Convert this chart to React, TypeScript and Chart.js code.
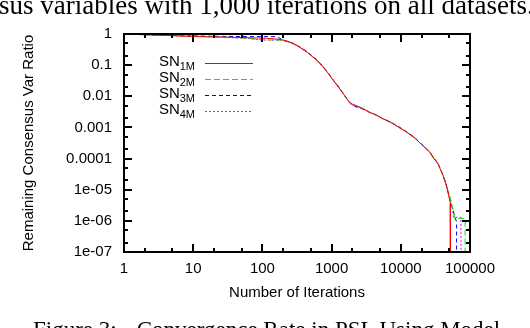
import React, { useEffect, useRef } from "react";
import { Chart, registerables } from "chart.js";

Chart.register(...registerables);

// ---- tick definitions ----
const xDecades = [1, 10, 100, 1000, 10000, 100000];
const xTickLabels = ["1", "10", "100", "1000", "10000", "100000"];
const yDecades = [1, 0.1, 0.01, 0.001, 0.0001, 1e-5, 1e-6, 1e-7];
const yTickLabels = ["1", "0.1", "0.01", "0.001", "0.0001", "1e-05", "1e-06", "1e-07"];
const minorMultipliers = [2, 5];

// ---- series ----
const seriesBase = ["SN", "SN", "SN", "SN"];
const seriesSub = ["1M", "2M", "3M", "4M"];
const seriesColors = ["#ff0000", "#00ee00", "#0000ff", "#ff00ff"];
const seriesDash = [[], [6, 3], [4, 3], [2, 2]];

// value 0 (reached at the end) is shown below the log axis
const ZERO = 1e-9;

const itersSN1M = [1, 2.5, 5, 12, 42, 115, 190, 250, 320, 433, 600, 751, 900, 1048, 1250, 1462, 1650, 1820, 2000, 2400, 2800, 3500, 4420, 5500, 7000, 9100, 12000, 16000, 20000, 25900, 30000, 34300, 40600, 45000, 48000, 52000, 52000];
const valsSN1M = [1, 0.93, 0.88, 0.82, 0.78, 0.73, 0.66, 0.55, 0.42, 0.27, 0.15, 0.089, 0.053, 0.033, 0.02, 0.0124, 0.0085, 0.0064, 0.0056, 0.0048, 0.0041, 0.0031, 0.0025, 0.0019, 0.0015, 0.00105, 0.00072, 0.00045, 0.00028, 0.000166, 0.0001, 6.9e-5, 2.9e-5, 1.5e-5, 8.5e-6, 3.7e-6, ZERO];

const itersSN2M = [1, 2.5, 10, 25, 60, 100, 190, 250, 320, 433, 600, 751, 900, 1048, 1250, 1462, 1650, 1820, 2000, 2400, 2800, 3500, 4420, 5500, 7000, 9100, 12000, 16000, 20000, 25900, 30000, 34300, 40600, 45000, 50000, 55000, 58000, 60000, 85000, 85000];
const valsSN2M = [1, 0.93, 0.85, 0.8, 0.73, 0.65, 0.63, 0.54, 0.42, 0.27, 0.15, 0.09, 0.055, 0.034, 0.02, 0.0125, 0.0083, 0.0062, 0.0052, 0.0045, 0.004, 0.0031, 0.0025, 0.0019, 0.0015, 0.00105, 0.00073, 0.00046, 0.00028, 0.00017, 0.000105, 7e-5, 3e-5, 1.5e-5, 7e-6, 3e-6, 2e-6, 1.2e-6, 1.2e-6, ZERO];

const itersSN3M = [1, 3, 12, 40, 160, 200, 250, 320, 433, 600, 751, 900, 1048, 1250, 1462, 1650, 1820, 2000, 2400, 2800, 3500, 4420, 5500, 7000, 9100, 12000, 16000, 20000, 25900, 30000, 34300, 40600, 45000, 48000, 52000, 56000, 64000, 64000];
const valsSN3M = [1, 0.93, 0.86, 0.83, 0.82, 0.64, 0.55, 0.43, 0.28, 0.155, 0.092, 0.056, 0.034, 0.021, 0.0128, 0.0084, 0.0061, 0.0051, 0.0044, 0.0039, 0.0031, 0.0025, 0.0019, 0.0015, 0.0011, 0.00074, 0.00047, 0.00029, 0.00017, 0.000104, 7.2e-5, 3e-5, 1.6e-5, 8.5e-6, 4e-6, 2.5e-6, 9e-7, ZERO];

const itersSN4M = [1, 2.5, 10, 25, 60, 100, 190, 250, 320, 433, 600, 751, 900, 1048, 1250, 1462, 1650, 1820, 2000, 2400, 2800, 3500, 4420, 5500, 7000, 9100, 12000, 16000, 20000, 25900, 30000, 34300, 40600, 45000, 50000, 55000, 58000, 74000, 74000];
const valsSN4M = [1, 0.93, 0.85, 0.8, 0.72, 0.64, 0.63, 0.54, 0.42, 0.27, 0.15, 0.09, 0.054, 0.034, 0.02, 0.0126, 0.0084, 0.0062, 0.0052, 0.0045, 0.004, 0.0031, 0.0025, 0.0019, 0.0015, 0.00105, 0.00072, 0.00046, 0.00028, 0.00017, 0.000103, 7e-5, 3e-5, 1.5e-5, 7e-6, 3e-6, 1.3e-6, 1.3e-6, ZERO];

const seriesIters = [itersSN1M, itersSN2M, itersSN3M, itersSN4M];
const seriesVals = [valsSN1M, valsSN2M, valsSN3M, valsSN4M];

const xTitle = "Number of Iterations";
const yTitle = "Remaining Consensus Var Ratio";
const topCaption = "sus variables with 1,000 iterations on all datasets.";
const bottomCaptionLabel = "Figure 3:";
const bottomCaptionText = "Convergence Rate in PSL Using Model";

const FONT = "'Liberation Sans', Arial, Helvetica, sans-serif";
const SERIF = "'Liberation Serif', 'Times New Roman', serif";
const FONT_SIZE = 15;

const sameLog = (a: number, b: number) => Math.abs(Math.log10(a) - Math.log10(b)) < 1e-6;

const framePlugin = {
  id: "gnuFrame",
  afterDatasetsDraw(chart: any) {
    const { ctx, chartArea: a, scales } = chart;
    const xs = scales.x;
    const ys = scales.y;
    ctx.save();
    ctx.strokeStyle = "#000";
    ctx.lineWidth = 2;
    ctx.lineCap = "butt";
    ctx.strokeRect(a.left, a.top, a.right - a.left, a.bottom - a.top);
    const major = 8;
    const minor = 4;
    const tick = (x1: number, y1: number, x2: number, y2: number) => {
      ctx.beginPath();
      ctx.moveTo(x1, y1);
      ctx.lineTo(x2, y2);
      ctx.stroke();
    };
    const xVals: [number, number][] = [];
    xDecades.forEach((d, i) => {
      xVals.push([d, major]);
      if (i < xDecades.length - 1) minorMultipliers.forEach((m) => xVals.push([d * m, minor]));
    });
    xVals.forEach(([v, len]) => {
      const p = Math.round(xs.getPixelForValue(v));
      tick(p, a.bottom, p, a.bottom - len);
      tick(p, a.top, p, a.top + len);
    });
    const yAsc = [...yDecades].sort((p, q) => p - q);
    const yVals: [number, number][] = [];
    yAsc.forEach((d, i) => {
      yVals.push([d, major]);
      if (i < yAsc.length - 1) minorMultipliers.forEach((m) => yVals.push([d * m, minor]));
    });
    yVals.forEach(([v, len]) => {
      const p = Math.round(ys.getPixelForValue(v));
      tick(a.left, p, a.left + len, p);
      tick(a.right, p, a.right - len, p);
    });

    // key (legend) with subscripts
    const textRight = a.left + 71;
    const lineStart = a.left + 81;
    const lineEnd = a.left + 129;
    chart.data.datasets.forEach((ds: any, i: number) => {
      const yy = a.top + 29 + i * 16;
      ctx.fillStyle = "#000";
      ctx.textBaseline = "middle";
      ctx.textAlign = "right";
      ctx.font = `11px ${FONT}`;
      const subW = ctx.measureText(seriesSub[i]).width;
      ctx.fillText(seriesSub[i], textRight, yy + 4);
      ctx.font = `${FONT_SIZE}px ${FONT}`;
      ctx.fillText(seriesBase[i], textRight - subW, yy - 1);
      ctx.strokeStyle = ds.borderColor;
      ctx.lineWidth = 1;
      ctx.setLineDash(ds.borderDash || []);
      ctx.beginPath();
      ctx.moveTo(lineStart, yy + 0.5);
      ctx.lineTo(lineEnd, yy + 0.5);
      ctx.stroke();
      ctx.setLineDash([]);
    });
    ctx.restore();
  },
};

export default function App() {
  const ref = useRef<HTMLCanvasElement | null>(null);

  useEffect(() => {
    document.body.style.margin = "0";
    const canvas = ref.current;
    if (!canvas) return;
    const chart = new Chart(canvas, {
      type: "line",
      data: {
        datasets: seriesIters.map((its, i) => ({
          label: seriesBase[i] + seriesSub[i],
          data: its.map((x, j) => ({ x, y: seriesVals[i][j] })),
          borderColor: seriesColors[i],
          backgroundColor: seriesColors[i],
          borderDash: seriesDash[i],
          borderWidth: 1,
          pointRadius: 0,
          tension: 0,
          fill: false,
        })),
      },
      options: {
        responsive: false,
        animation: false,
        devicePixelRatio: 1,
        layout: { padding: { left: 0, top: 34, right: 60, bottom: 0 } },
        plugins: {
          legend: { display: false },
          tooltip: { enabled: false },
          title: { display: false },
        },
        scales: {
          x: {
            type: "logarithmic",
            min: 1,
            max: 100000,
            grid: { display: false, drawTicks: false },
            border: { display: false },
            afterBuildTicks: (s: any) => {
              s.ticks = xDecades.map((v) => ({ value: v, major: true }));
            },
            afterFit: (s: any) => {
              s.height = 76;
            },
            ticks: {
              autoSkip: false,
              maxRotation: 0,
              padding: 8,
              color: "#000",
              font: { family: FONT, size: FONT_SIZE },
              callback: (v: any) => {
                const i = xDecades.findIndex((d) => sameLog(d, Number(v)));
                return i >= 0 ? xTickLabels[i] : "";
              },
            },
            title: {
              display: true,
              text: xTitle,
              color: "#000",
              font: { family: FONT, size: FONT_SIZE },
              padding: { top: 0, bottom: 26 },
            },
          },
          y: {
            type: "logarithmic",
            min: 1e-7,
            max: 1,
            grid: { display: false, drawTicks: false },
            border: { display: false },
            afterBuildTicks: (s: any) => {
              s.ticks = [...yDecades].sort((p, q) => p - q).map((v) => ({ value: v, major: true }));
            },
            afterFit: (s: any) => {
              s.width = 124;
            },
            ticks: {
              autoSkip: false,
              padding: 12,
              color: "#000",
              font: { family: FONT, size: FONT_SIZE },
              callback: (v: any) => {
                const i = yDecades.findIndex((d) => sameLog(d, Number(v)));
                return i >= 0 ? yTickLabels[i] : "";
              },
            },
            title: {
              display: true,
              text: yTitle,
              color: "#000",
              font: { family: FONT, size: FONT_SIZE },
              padding: { top: 20, bottom: 0 },
            },
          },
        },
      },
      plugins: [framePlugin],
    } as any);
    return () => chart.destroy();
  }, []);

  return (
    <div style={{ position: "fixed", left: 0, top: 0, width: 530, height: 328, overflow: "hidden", background: "#fff" }}>
      <canvas ref={ref} width={530} height={328} style={{ display: "block", position: "absolute", left: 0, top: 0 }} />
      <div
        style={{
          position: "absolute",
          left: -1,
          top: -9,
          whiteSpace: "nowrap",
          fontFamily: SERIF,
          fontSize: 27,
          lineHeight: "28px",
          color: "#000",
        }}
      >
        {topCaption}
      </div>
      <div
        style={{
          position: "absolute",
          left: 33,
          top: 318,
          whiteSpace: "nowrap",
          fontFamily: SERIF,
          fontSize: 23,
          lineHeight: "24px",
          color: "#000",
        }}
      >
        <span>{bottomCaptionLabel}</span>
        <span style={{ marginLeft: 20 }}>{bottomCaptionText}</span>
      </div>
    </div>
  );
}
